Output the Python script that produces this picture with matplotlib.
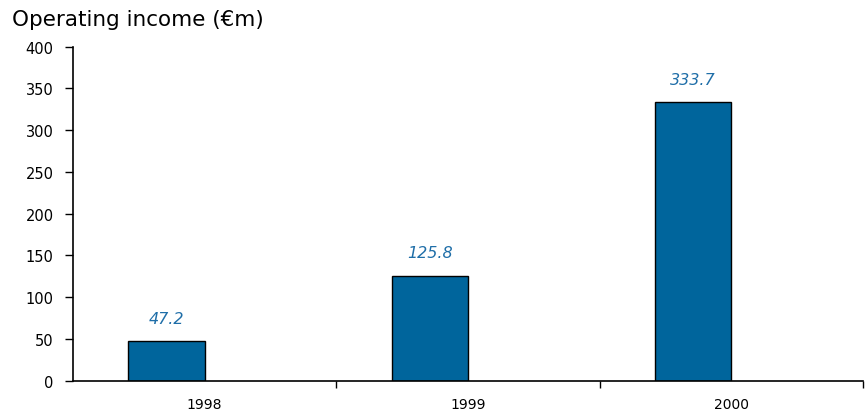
import numpy as np
import matplotlib.pyplot as plt
from matplotlib.ticker import FixedLocator

years = ['1998', '1999', '2000']
income = [47.2, 125.8, 333.7]
value_labels = ['47.2', '125.8', '333.7']

bar_color = '#00659c'
label_color = '#1f6ea8'

fig = plt.figure(figsize=(8.66, 4.14), dpi=100)
ax = fig.add_axes([0.0843, 0.078, 0.912, 0.8068])

x = np.arange(len(years))
bar_w = 0.29
bars = ax.bar(x, income, width=-bar_w, align='edge', color=bar_color,
              edgecolor='black', linewidth=1.0)

for b, txt in zip(bars, value_labels):
    ax.annotate(txt, (b.get_x() + b.get_width() / 2, b.get_height()),
                xytext=(0, 11), textcoords='offset points', ha='center',
                va='bottom', fontsize=11.5, style='italic', color=label_color)

ax.set_xlim(-0.5, len(years) - 0.5)
ax.set_ylim(0, 400)
ax.set_yticks(range(0, 401, 50))

# year labels sit in the middle, tick marks go on the category boundaries
ax.set_xticks(x)
ax.set_xticklabels(years, fontsize=10)
ax.tick_params(axis='x', which='major', length=0, pad=12)
ax.xaxis.set_minor_locator(FixedLocator([0.5, 1.5, 2.5]))
ax.tick_params(axis='x', which='minor', length=5, width=1.0, direction='out')
ax.tick_params(axis='y', length=6, width=1.0, pad=8, labelsize=10.5)

for s in ['top', 'right']:
    ax.spines[s].set_visible(False)
for s in ['left', 'bottom']:
    ax.spines[s].set_linewidth(1.2)

fig.text(0.014, 0.952, 'Operating income (\u20acm)', fontsize=15.5, va='center')

fig.savefig('out.png', dpi=100)
